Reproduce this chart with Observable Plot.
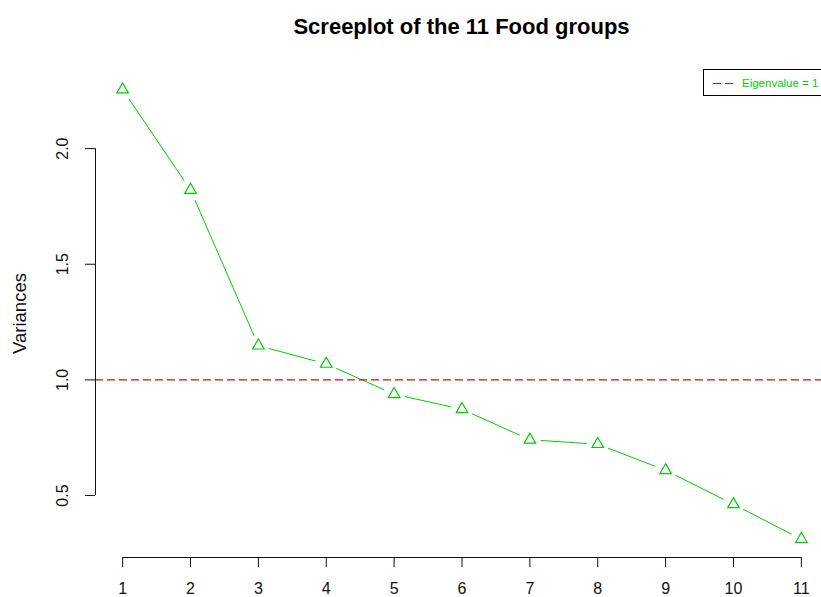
<!DOCTYPE html>
<html><head><meta charset="utf-8">
<script src="https://cdn.jsdelivr.net/npm/d3@7"></script>
<script src="https://cdn.jsdelivr.net/npm/@observablehq/plot@0.6"></script>
<style>
body{margin:0;background:#fff;overflow:hidden;}
#wrap{position:relative;width:821px;height:597px;overflow:hidden;font-family:"Liberation Sans",Arial,sans-serif;background:#fff;}
#title{position:absolute;left:95px;width:733px;top:13px;text-align:center;font-weight:bold;font-size:22px;line-height:27px;color:#000;}
#legend{position:absolute;left:703px;top:69px;width:150px;height:25px;border:1px solid #000;background:#fff;box-sizing:content-box;}
#legend svg{position:absolute;left:9px;top:12px;}
#legend span{position:absolute;left:38px;top:6px;font-size:11.5px;line-height:14px;color:#00cc00;white-space:nowrap;}
</style></head>
<body>
<div id="wrap">
  <div id="chart"></div>
  <div id="title"></div>
  <div id="legend"><svg width="22" height="3"><line x1="0" y1="1.5" x2="22" y2="1.5" stroke="#e01010" stroke-width="1.2" stroke-dasharray="8,4"/></svg><span id="legtext"></span></div>
</div>
<script>
const titleText = "Screeplot of the 11 Food groups";
const yLabel = "Variances";
const legendLabel = "Eigenvalue = 1";
const components = [1, 2, 3, 4, 5, 6, 7, 8, 9, 10, 11];
const variances = [2.255, 1.821, 1.148, 1.069, 0.938, 0.873, 0.741, 0.722, 0.609, 0.462, 0.311];
const xTicks = [1, 2, 3, 4, 5, 6, 7, 8, 9, 10, 11];
const yTicks = [0.5, 1.0, 1.5, 2.0];
const eigenThreshold = [1];

const xDomain = [0.6, 11.4];
const yDomain = [0.232, 2.342];
const green = "#00cc00";
const axisColor = "#111";

document.getElementById("title").textContent = titleText;
document.getElementById("legtext").textContent = legendLabel;

const data = components.map((c, i) => ({pc: c, v: variances[i]}));

const chart = Plot.plot({
  width: 821, height: 597,
  marginLeft: 95, marginRight: -7, marginTop: 69, marginBottom: 40,
  style: {fontFamily: "'Liberation Sans', Arial, sans-serif", background: "white", color: "black"},
  x: {domain: xDomain, axis: null},
  y: {domain: yDomain, axis: null},
  marks: [
    Plot.line(data, {x: "pc", y: "v", stroke: green, strokeWidth: 1}),
    Plot.dot(data, {x: "pc", y: "v", r: 11, fill: "white", stroke: "none"}),
    Plot.ruleY(eigenThreshold, {stroke: "#d01010", strokeWidth: 1.3, strokeDasharray: "8,4"}),
    Plot.dot(data, {x: "pc", y: "v", symbol: "triangle", r: 4.3, stroke: green, fill: "none", strokeWidth: 1.2}),
    // y axis
    Plot.ruleX([xDomain[0]], {y1: yTicks[0], y2: yTicks[yTicks.length - 1], stroke: axisColor}),
    Plot.axisY(yTicks, {anchor: "left", tickSize: 10, fill: "none", stroke: axisColor}),
    Plot.text(yTicks, {y: d => d, text: d => d.toFixed(1), frameAnchor: "left", rotate: -90, dx: -33, fontSize: 16, textAnchor: "middle", lineAnchor: "middle", fill: axisColor}),
    Plot.text([yLabel], {text: d => d, frameAnchor: "left", rotate: -90, dx: -75, fontSize: 18.5, textAnchor: "middle", lineAnchor: "middle", fill: axisColor}),
    // x axis
    Plot.ruleY([yDomain[0]], {x1: xTicks[0], x2: xTicks[xTicks.length - 1], stroke: axisColor}),
    Plot.axisX(xTicks, {anchor: "bottom", tickSize: 10, fill: "none", stroke: axisColor}),
    Plot.text(xTicks, {x: d => d, text: d => String(d), frameAnchor: "bottom", dy: 31, fontSize: 16, lineAnchor: "middle", fill: axisColor})
  ]
});
document.getElementById("chart").appendChild(chart);
</script>
</body></html>
